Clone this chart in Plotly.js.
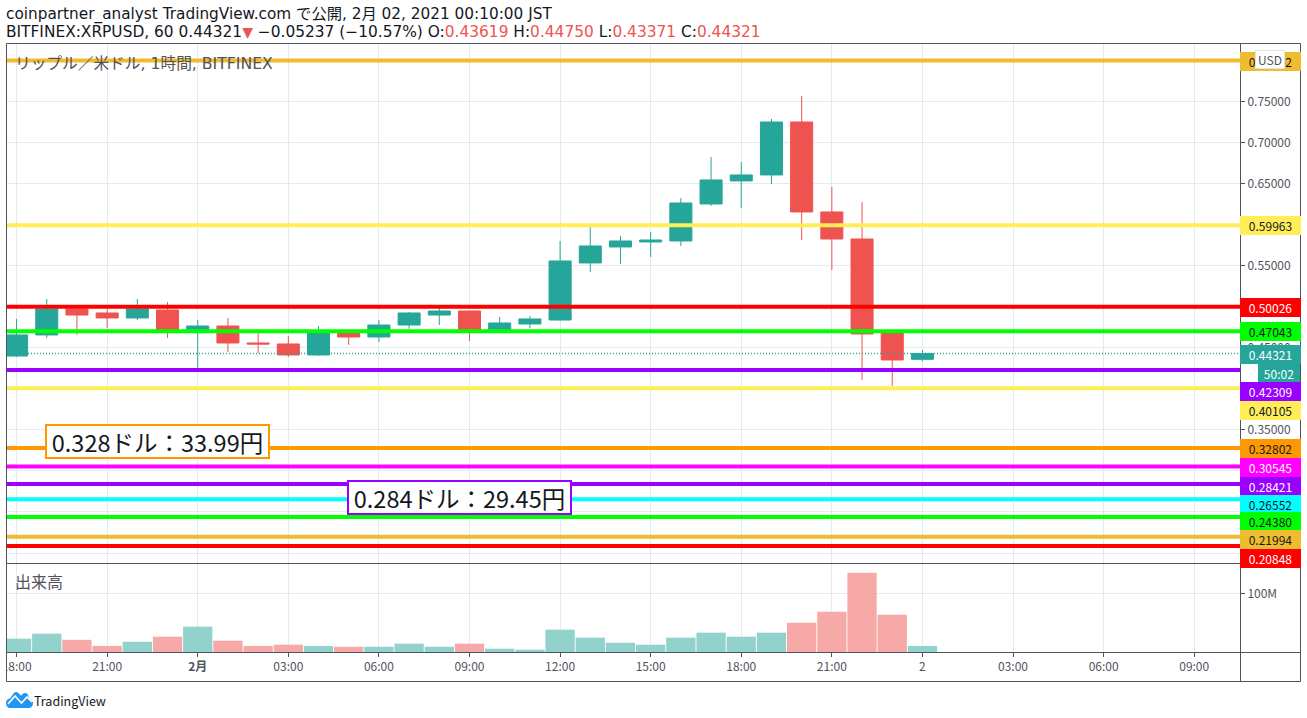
<!DOCTYPE html>
<html>
<head>
<meta charset="utf-8">
<script src="https://cdn.plot.ly/plotly-3.0.1.min.js"></script>
<style>
  html, body { margin: 0; padding: 0; background: #fff; overflow: hidden; }
  #chart { width: 1307px; height: 718px; }
  #logo { position: absolute; left: 6px; top: 691px; }
</style>
</head>
<body>
<div id="chart"></div>
<svg id="logo" width="27" height="17" viewBox="0 0 27 17">
  <path d="M0 12 C0 9 2 7.5 4 7.5 L7.5 2.5 C9 0.5 11 0.5 12.5 2 L15 4.8 C17 1.5 20.5 1 22 4 L23.5 8 C25.5 8.5 27 10.5 27 12.5 C27 15 25 17 22.5 17 L4 17 C1.5 17 0 14.5 0 12 Z" fill="#2196f3"/>
  <path d="M2 13 L9 5 L15.5 12 L21 6 L26 11" fill="none" stroke="#fff" stroke-width="1.6"/>
</svg>
<script>
var times = ["2021-01-31 18:00","2021-01-31 19:00","2021-01-31 20:00","2021-01-31 21:00","2021-01-31 22:00","2021-01-31 23:00",
  "2021-02-01 00:00","2021-02-01 01:00","2021-02-01 02:00","2021-02-01 03:00","2021-02-01 04:00","2021-02-01 05:00",
  "2021-02-01 06:00","2021-02-01 07:00","2021-02-01 08:00","2021-02-01 09:00","2021-02-01 10:00","2021-02-01 11:00",
  "2021-02-01 12:00","2021-02-01 13:00","2021-02-01 14:00","2021-02-01 15:00","2021-02-01 16:00","2021-02-01 17:00",
  "2021-02-01 18:00","2021-02-01 19:00","2021-02-01 20:00","2021-02-01 21:00","2021-02-01 22:00","2021-02-01 23:00",
  "2021-02-02 00:00"];
var opens  = [.4402,.4659,.4976,.4927,.4866,.4963,.4720,.4768,.4561,.4549,.4415,.4683,.4634,.4780,.4902,.4951,
  .4720,.4793,.4841,.5537,.5732,.5793,.5805,.6256,.6537,.6610,.7256,.6159,.5829,.4683,.43619];
var closes = [.4659,.4976,.4902,.4866,.4976,.4720,.4768,.4561,.4549,.4415,.4683,.4634,.4780,.4927,.4951,.4720,
  .4805,.4854,.5561,.5744,.5805,.5817,.6268,.6549,.6610,.7256,.6159,.5829,.4671,.4354,.44321];
var highs  = [.4854,.5098,.4988,.4976,.5098,.5061,.4841,.4866,.4683,.4646,.4768,.4683,.4841,.4939,.4988,.4951,
  .4878,.4890,.5805,.5976,.5866,.5915,.6329,.6829,.6768,.7293,.7573,.6463,.6280,.4683,.4475];
var lows   = [.4390,.4622,.4659,.4744,.4841,.4622,.4256,.4451,.4439,.4390,.4402,.4537,.4573,.4732,.4780,.4585,
  .4720,.4744,.4829,.5427,.5524,.5610,.5744,.6232,.6207,.6500,.5817,.5451,.4110,.4037,.43371];
var volumes = [23,31.6,21,10.5,17.7,26.4,43.7,19.5,10.5,12.6,10.5,9,9,14.4,9,14.4,5.7,4,38.5,24.7,16,12.6,
  24.7,33.3,26.4,33.3,50.5,69.5,136.7,64.3,10.5];

var levels = [0.80062,0.59963,0.50026,0.47043,0.42309,0.40105,0.32802,0.30545,0.28421,0.26552,0.24380,0.21994,0.20848];
var levelColors = ["#f0bc2f","#ffee58","#ff0000","#00ff00","#9900ff","#ffee58","#ff9800","#ff00ff","#9900ff","#00ffff","#00ff00","#f0bc2f","#ff0000"];
var levelText = ["#131722","#131722","#ffffff","#131722","#ffffff","#131722","#131722","#ffffff","#ffffff","#131722","#131722","#131722","#ffffff"];
// the labels are stacked on the price scale, so they do not all sit at their own level
var labelRows = [61,225.5,307.5,331.5,391.5,410.5,448.5,467.5,486.5,504.5,521.5,539.5,558.5];
var lastPrice = 0.44321;

var tickTimes = ["2021-01-31 18:00","2021-01-31 21:00","2021-02-01 00:00","2021-02-01 03:00","2021-02-01 06:00","2021-02-01 09:00",
  "2021-02-01 12:00","2021-02-01 15:00","2021-02-01 18:00","2021-02-01 21:00","2021-02-02 00:00","2021-02-02 03:00","2021-02-02 06:00","2021-02-02 09:00"];
var tickLabels = ["18:00","21:00","<b>2月</b>","03:00","06:00","09:00","12:00","15:00","18:00","21:00","2","03:00","06:00","09:00"];
var priceTicks = [0.20,0.25,0.30,0.35,0.40,0.45,0.50,0.55,0.60,0.65,0.70,0.75,0.80];
var priceRange = [0.1878,0.8207];
var xRange = ["2021-01-31 17:41","2021-02-02 10:31"];

var UP = "#26a69a", DOWN = "#ef5350", GRID = "#e1ecf2", FRAME = "#50535e", TEXT = "#50535e";
var FONT = "Noto Sans CJK JP, Noto Sans, sans-serif";
var WIDE = "DejaVu Sans, Noto Sans CJK JP, sans-serif";

var traces = [{
  type: "candlestick", x: times, open: opens, high: highs, low: lows, close: closes,
  increasing: { line: { color: UP, width: 1 }, fillcolor: UP },
  decreasing: { line: { color: DOWN, width: 1 }, fillcolor: DOWN },
  whiskerwidth: 0, showlegend: false, hoverinfo: "skip"
}, {
  type: "bar", x: times, y: volumes, yaxis: "y2", showlegend: false, hoverinfo: "skip",
  marker: { color: closes.map(function (c, i) { return c >= opens[i] ? "#92d2cc" : "#f7a9a7"; }), line: { width: 0 } }
}, {
  type: "scatter", mode: "lines", x: xRange, y: [lastPrice, lastPrice], showlegend: false, hoverinfo: "skip",
  line: { color: UP, width: 1.4, dash: "1px,2px" }
}];

levels.forEach(function (lvl, i) {
  traces.push({
    type: "scatter", mode: "lines", x: xRange, y: [lvl, lvl], showlegend: false, hoverinfo: "skip",
    line: { color: levelColors[i], width: 4 }
  });
});

var annotations = [];
function note(text, x, y, opts) {
  annotations.push(Object.assign({
    text: text, x: x, y: y, xref: "paper", yref: "paper", showarrow: false,
    xanchor: "left", yanchor: "middle", align: "left", font: { family: WIDE, size: 15, color: TEXT }
  }, opts || {}));
}
// helpers: page pixels to paper coordinates
function px(v) { return (v - 7) / 1233; }
function py(v) { return (652 - v) / 608; }
function tag(text, left, row, w, bg, color) {
  note(text, px(left), py(row), {
    width: w, height: 17, bgcolor: bg, borderpad: 1, borderwidth: 0, align: "center",
    font: { family: FONT, size: 12, color: color }
  });
}
var RED = function (s) { return '<span style="color:#ef5350">' + s + '</span>'; };

note("coinpartner_analyst TradingView.com で公開, 2月 02, 2021 00:10:00 JST", px(4), py(15), { font: { family: WIDE, size: 15.3, color: "#131722" } });
note('BITFINEX:XRPUSD, 60 0.44321<span style="color:#ef5350;font-size:14px">▼</span> −0.05237 (−10.57%) O:' + RED("0.43619") + ' H:' + RED("0.44750") + ' L:' + RED("0.43371") + ' C:' + RED("0.44321"),
  px(4), py(32), { font: { family: WIDE, size: 15.4, color: "#131722" } });
note("リップル／米ドル, 1時間, BITFINEX", px(13), py(63), { font: { family: WIDE, size: 15.7, color: TEXT } });
note("出来高", px(13), py(581), { font: { family: FONT, size: 16, color: TEXT } });
note("TradingView", px(32), py(700), { font: { family: FONT, size: 12.5, color: "#131722" } });

// right hand price labels
tag("0.44321", 1240, 354.5, 59, UP, "#fff");
tag("50:02", 1258, 373.5, 40, UP, "#fff");
levels.forEach(function (lvl, i) {
  tag(lvl.toFixed(5), 1240, labelRows[i], 59, levelColors[i], levelText[i]);
});
note("USD", px(1255), py(60), {
  width: 28, height: 17, bgcolor: "#fff", bordercolor: "#e0e3eb", borderwidth: 1, borderpad: 0, align: "center",
  font: { family: FONT, size: 12, color: TEXT }
});

// boxed price notes
note("0.328ドル：33.99円", px(45), py(441), {
  width: 221, height: 31, bgcolor: "#fff", bordercolor: "#ff9800", borderwidth: 2, borderpad: 0, align: "center",
  font: { family: FONT, size: 23.5, color: "#131722" }
});
note("0.284ドル：29.45円", px(347), py(497.5), {
  width: 221, height: 31, bgcolor: "#fff", bordercolor: "#9900ff", borderwidth: 2, borderpad: 0, align: "center",
  font: { family: FONT, size: 23.5, color: "#131722" }
});

var frame = { color: FRAME, width: 1 };
var shapes = [
  { type: "rect", xref: "paper", yref: "paper", layer: "above", x0: px(0), x1: px(6), y0: py(656), y1: py(682), fillcolor: "#fff", line: { width: 0 } },
  { type: "rect", xref: "paper", yref: "paper", layer: "above", x0: px(6.5), x1: px(1300.5), y0: py(681.5), y1: py(43.5), fillcolor: "rgba(0,0,0,0)", line: frame },
  { type: "line", xref: "paper", yref: "paper", layer: "above", x0: px(1240.5), x1: px(1240.5), y0: py(43.5), y1: py(681.5), line: frame },
  { type: "line", xref: "paper", yref: "paper", layer: "above", x0: px(6.5), x1: px(1240.5), y0: py(563.5), y1: py(563.5), line: frame },
  { type: "line", xref: "paper", yref: "paper", layer: "above", x0: px(6.5), x1: px(1300.5), y0: py(652.5), y1: py(652.5), line: frame }
];

var layout = {
  width: 1307, height: 718,
  margin: { l: 7, r: 67, t: 44, b: 66, pad: 0 },
  paper_bgcolor: "#fff", plot_bgcolor: "#fff",
  font: { family: FONT, size: 12, color: TEXT },
  showlegend: false, dragmode: false,
  boxgap: 0.27, boxgroupgap: 0, bargap: 0.03,
  annotations: annotations, shapes: shapes,
  xaxis: {
    type: "date", range: xRange, anchor: "y2", rangeslider: { visible: false },
    tickmode: "array", tickvals: tickTimes, ticktext: tickLabels, tickangle: 0,
    ticks: "outside", ticklen: 4, tickcolor: FRAME, gridcolor: GRID, gridwidth: 1,
    showline: false, zeroline: false, tickfont: { family: FONT, size: 12, color: TEXT }
  },
  yaxis: {
    domain: [89 / 608, 1], range: priceRange, side: "right", tickmode: "array", tickvals: priceTicks,
    ticktext: priceTicks.map(function (v) { return v.toFixed(5); }), ticks: "outside", ticklen: 4, tickcolor: FRAME,
    gridcolor: GRID, gridwidth: 1, zeroline: false, showline: false, tickfont: { family: FONT, size: 12, color: TEXT }
  },
  yaxis2: {
    domain: [0, 88 / 608], range: [0, 151.7], side: "right", tickmode: "array", tickvals: [100], ticktext: ["100M"],
    ticks: "outside", ticklen: 4, tickcolor: FRAME, gridcolor: GRID, gridwidth: 1, zeroline: false, showline: false,
    tickfont: { family: FONT, size: 12, color: TEXT }
  }
};

Plotly.newPlot("chart", traces, layout, { displayModeBar: false, staticPlot: true });
</script>
</body>
</html>
